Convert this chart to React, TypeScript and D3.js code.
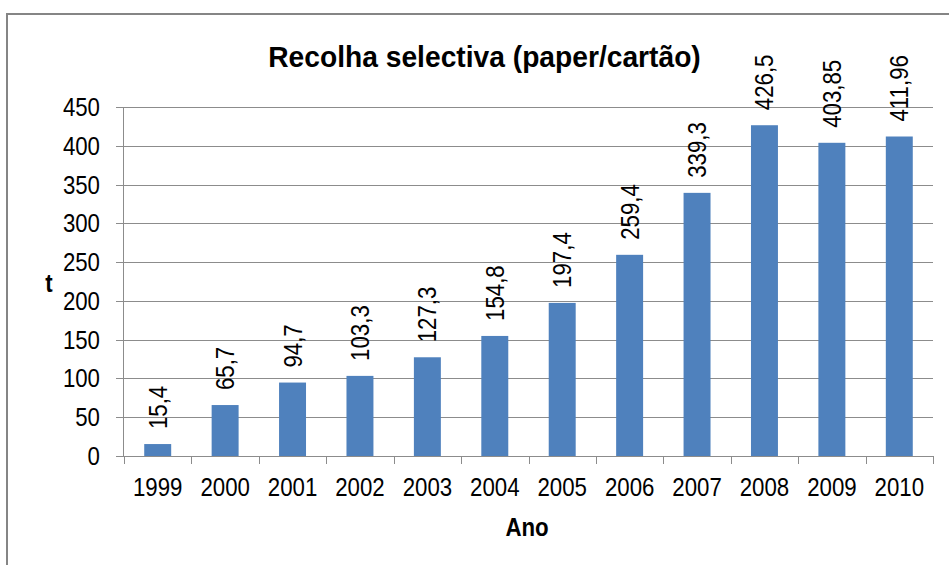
import React from "react";
import * as d3 from "d3";

const years = ["1999","2000","2001","2002","2003","2004","2005","2006","2007","2008","2009","2010"];
const values = [15.4, 65.7, 94.7, 103.3, 127.3, 154.8, 197.4, 259.4, 339.3, 426.5, 403.85, 411.96];
const yTicks = [0, 50, 100, 150, 200, 250, 300, 350, 400, 450];
const title = "Recolha selectiva (paper/cartão)";
const xTitle = "Ano";
const yTitle = "t";

const W = 949, H = 565;
const left = 124, right = 933, top = 107, bottom = 456;
const FONT = "'Liberation Sans', Arial, sans-serif";
const SX = 0.89;

export default function App() {
  const x = d3.scaleBand<string>().domain(years).range([left, right]).paddingInner(0.6).paddingOuter(0.3);
  const xb = d3.scaleBand<string>().domain(years).range([left, right]).padding(0);
  const y = d3.scaleLinear().domain([0, 450]).range([bottom, top]);
  const grid = "#8c8c8c";
  return (
    <svg width={W} height={H} style={{ position: "absolute", left: 0, top: 0, background: "#fff" }} fontFamily={FONT}>
      <rect x={7} y={14} width={1000} height={700} fill="#fff" stroke="#858585" strokeWidth={2} />
      <text transform={`translate(484.5,67) scale(0.94,1)`} textAnchor="middle" fontSize={30} fontWeight="bold" fill="#000">{title}</text>
      {yTicks.map(t => (
        <g key={t}>
          <line x1={116} x2={right} y1={Math.round(y(t)) + 0.5} y2={Math.round(y(t)) + 0.5} stroke={grid} strokeWidth={1} />
          <text transform={`translate(100,${y(t) + 9}) scale(${SX},1)`} textAnchor="end" fontSize={25} fill="#000">{t}</text>
        </g>
      ))}
      <line x1={123.5} x2={123.5} y1={top} y2={bottom} stroke={grid} strokeWidth={1} />
      {years.map((yr, i) => (
        <g key={yr}>
          <rect x={x(yr)} y={y(values[i])} width={x.bandwidth()} height={bottom - y(values[i])} fill="#4f81bd" />
          <text transform={`translate(${(x(yr) as number) + x.bandwidth() / 2 + 9},${y(values[i]) - 15}) rotate(-90) scale(${SX},1)`} fontSize={25} fill="#000">{String(values[i]).replace(".", ",")}</text>
          <text transform={`translate(${(xb(yr) as number) + xb.bandwidth() / 2},496) scale(${SX},1)`} textAnchor="middle" fontSize={25} fill="#000">{yr}</text>
        </g>
      ))}
      <line x1={left} x2={right} y1={bottom + 0.5} y2={bottom + 0.5} stroke={grid} strokeWidth={1.2} />
      {[...years.map(yr => xb(yr) as number), right].map((v, i) => (
        <line key={i} x1={Math.round(v) + 0.5} x2={Math.round(v) + 0.5} y1={bottom} y2={bottom + 8} stroke={grid} strokeWidth={1} />
      ))}
      <text transform={`translate(527,536) scale(${SX},1)`} textAnchor="middle" fontSize={25} fontWeight="bold" fill="#000">{xTitle}</text>
      <text transform={`translate(49,292) scale(${SX},1)`} textAnchor="middle" fontSize={25} fontWeight="bold" fill="#000">{yTitle}</text>
    </svg>
  );
}
